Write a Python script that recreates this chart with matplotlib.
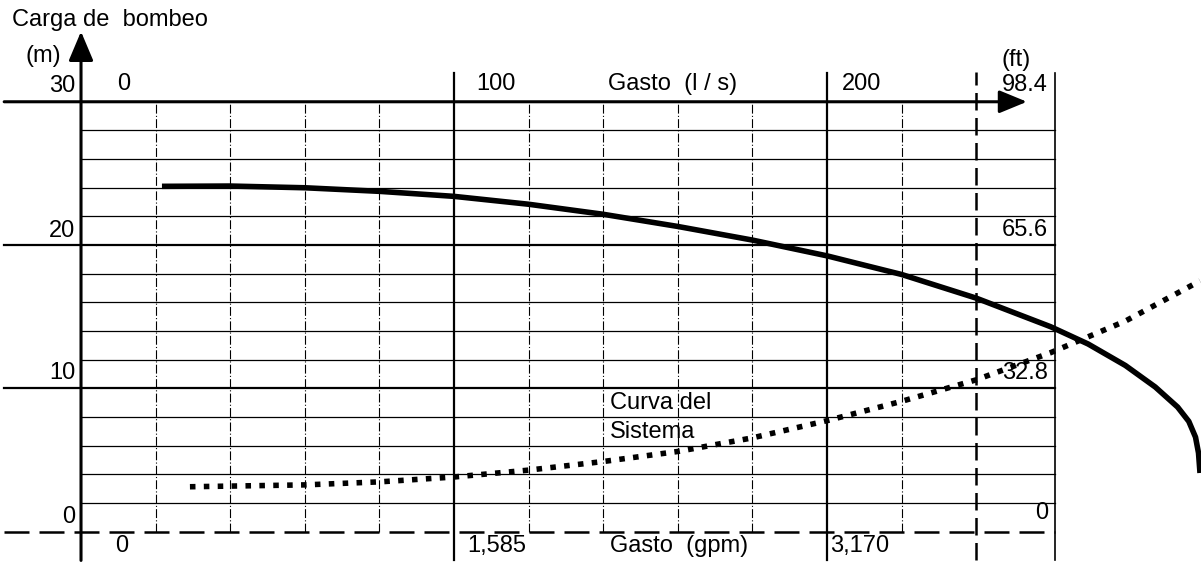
import matplotlib
matplotlib.use('Agg')
import matplotlib.pyplot as plt

plt.rcParams['font.family'] = ['Liberation Sans', 'DejaVu Sans']

# pump curve (l/s, m)
q_pump = [21.7, 40, 60, 80, 100, 120, 140, 160, 180, 200, 220, 240, 260, 270, 280, 288, 294, 297, 298.8, 299.6, 300]
h_pump = [24.1, 24.12, 24.0, 23.75, 23.4, 22.85, 22.15, 21.3, 20.35, 19.25, 17.95, 16.3, 14.3, 13.1, 11.6, 10.1, 8.7, 7.7, 6.6, 5.5, 4.1]

# system curve
q_sys = [29.2, 60, 80, 100, 120, 140, 160, 180, 200, 220, 240, 260, 280, 300]
h_sys = [3.14, 3.27, 3.48, 3.82, 4.3, 4.9, 5.6, 6.55, 7.75, 9.1, 10.6, 12.5, 14.7, 17.5]

major_h = [10, 20]
minor_h = [2, 4, 6, 8, 12, 14, 16, 18, 22, 24, 26, 28]
major_q = [100, 200]
minor_q = [20, 40, 60, 80, 120, 140, 160, 180, 220]
q_right = 261
q_limit = 240

left_labels = ['30', '20', '10', '0']
left_vals = [30, 20, 10, 0]
ft_labels = ['98.4', '65.6', '32.8', '0']
top_labels = ['0', '100', '200']
top_vals = [0, 100, 200]
gpm_labels = ['0', '1,585', '3,170']

fig = plt.figure(figsize=(12.01, 5.64), dpi=100)
ax = fig.add_axes([0, 0, 1, 1])
ax.set_xlim(-21.72, 300.27)
ax.set_ylim(-2.25, 37.10)
ax.axis('off')

# grid
for h in minor_h:
    ax.plot([0, q_right], [h, h], color='black', lw=0.9)
for h in major_h:
    ax.plot([-20.6, q_right], [h, h], color='black', lw=1.6)
ax.plot([-20.6, q_right], [0, 0], color='black', lw=1.8, linestyle=(0, (10, 4)))
for q in minor_q:
    ax.plot([q, q], [0, 30], color='black', lw=0.8, linestyle=(0, (8, 2, 1, 2)))
for q in major_q:
    ax.plot([q, q], [-2, 32.0], color='black', lw=1.6)
ax.plot([q_limit, q_limit], [-2, 32.1], color='black', lw=1.8, linestyle=(0, (7, 3)))
ax.plot([q_right, q_right], [-2, 32.0], color='black', lw=1.2)

# axes arrows
ax.annotate('', xy=(253.6, 30), xytext=(-20.6, 30),
            arrowprops=dict(arrowstyle='-|>,head_length=0.85,head_width=0.35',
                            mutation_scale=20, lw=2.2, color='black', shrinkA=0, shrinkB=0))
ax.annotate('', xy=(0, 34.9), xytext=(0, -2),
            arrowprops=dict(arrowstyle='-|>,head_length=0.9,head_width=0.38',
                            mutation_scale=20, lw=2.2, color='black', shrinkA=0, shrinkB=0))

# curves
ax.plot(q_pump, h_pump, color='black', lw=4, solid_capstyle='butt', solid_joinstyle='round')
ax.plot(q_sys, h_sys, color='black', lw=4, linestyle=(0, (1, 1.5)))

fs = 17
ax.text(-18.5, 35.7, 'Carga de  bombeo', fontsize=fs, ha='left', va='center')
ax.text(-15, 33.2, '(m)', fontsize=fs, ha='left', va='center')
ax.text(246.9, 32.9, '(ft)', fontsize=fs, ha='left', va='center')

for lab, v, dy in zip(left_labels, left_vals, [1.1, 1.0, 1.1, 1.0]):
    ax.text(-1.6, v + dy, lab, fontsize=fs, ha='right', va='center')
for lab, v, dy in zip(ft_labels, left_vals, [1.15, 1.05, 1.1, 1.3]):
    ax.text(259.3, v + dy, lab, fontsize=fs, ha='right', va='center')

for lab, x in zip(top_labels, [9.7, 105.9, 204.0]):
    ax.text(x, 31.25, lab, fontsize=fs, ha='left', va='center')
for lab, x in zip(gpm_labels, [9.1, 103.5, 200.8]):
    ax.text(x, -1.0, lab, fontsize=fs, ha='left', va='center')

ax.text(141.3, 31.25, 'Gasto  (l / s)', fontsize=fs, ha='left', va='center')
ax.text(141.8, -1.0, 'Gasto  (gpm)', fontsize=fs, ha='left', va='center')
ax.text(141.8, 8.98, 'Curva del', fontsize=fs, ha='left', va='center')
ax.text(141.8, 6.96, 'Sistema', fontsize=fs, ha='left', va='center')

fig.savefig('out.png', dpi=100)
